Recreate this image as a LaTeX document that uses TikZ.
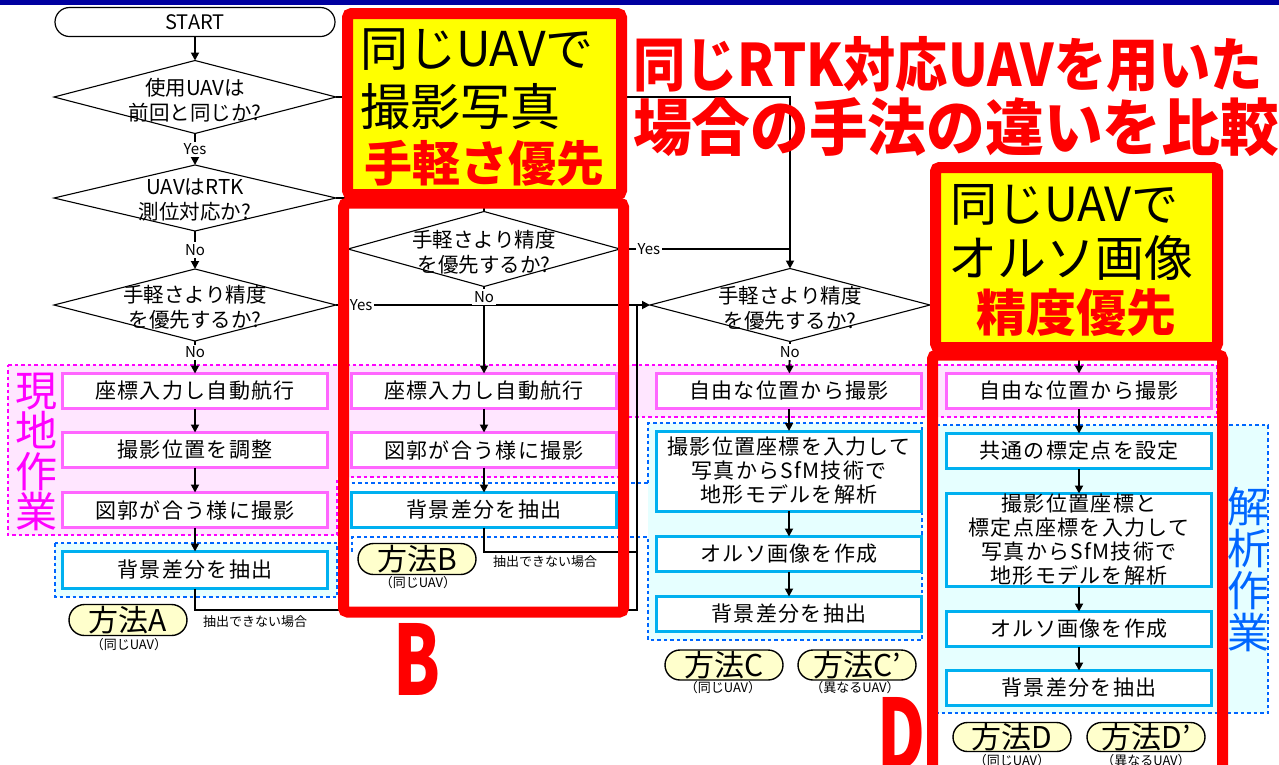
\documentclass[tikz,border=0pt]{standalone}
\usepackage{fontspec}
\setmainfont{Noto Sans CJK JP}
\newfontfamily\bxf{Noto Sans CJK JP}[LetterSpace=6]
\usetikzlibrary{shapes.geometric,shapes.misc,arrows.meta}
\definecolor{navy}{RGB}{0,0,160}
\definecolor{pinkb}{RGB}{255,102,255}
\definecolor{pinkd}{RGB}{255,0,255}
\definecolor{pinkf}{RGB}{255,230,255}
\definecolor{blueb}{RGB}{0,176,240}
\definecolor{blued}{RGB}{0,102,255}
\definecolor{bluef}{RGB}{230,255,255}
\definecolor{ylw}{RGB}{255,255,0}
\definecolor{lblf}{RGB}{255,255,204}
\newcommand{\myfs}[2]{\fontsize{#1}{#2}\selectfont}
\begin{document}
\begin{tikzpicture}[x=1pt,y=-1pt,
  every node/.style={inner sep=0pt, outer sep=0pt},
  pbox/.style={draw=pinkb, line width=3pt, fill=white, minimum width=265pt, minimum height=35pt, font=\bxf\myfs{21}{24}, align=center},
  bbox/.style={pbox, draw=blueb},
  dia/.style={diamond, draw=black, line width=1.1pt, fill=white, minimum width=282pt, minimum height=72pt},
  dtxt/.style={font=\myfs{20.5}{25}, align=center},
  yn/.style={font=\myfs{15}{15}, fill=white, inner sep=2pt},
  arr/.style={-{Triangle[length=8pt,width=8pt]}, line width=1.8pt},
  ln/.style={line width=1.8pt},
  meth/.style={rounded rectangle, draw=black, line width=1.4pt, fill=lblf, minimum width=118pt, minimum height=31pt, font=\myfs{30}{30}},
  sub/.style={font=\myfs{13}{13}},
  ng/.style={font=\myfs{13}{13}},
  redbox/.style={draw=red, line width=11pt, rounded corners=4pt},
  dsh/.style={line width=2.6pt, dash pattern=on 3.5pt off 3pt},
  pinkreg/.style={dsh, draw=pinkd, fill=pinkf},
  bluereg/.style={dsh, draw=blued, fill=bluef},
]
\clip (0,0) rectangle (1279,764);
\fill[white] (0,0) rectangle (1279,764);
\fill[navy] (0,0) rectangle (1279,5);

% regions
\draw[pinkreg] (8,365) -- (1217,365) -- (1217,417) -- (625,417) -- (625,477) -- (337,477) -- (337,535) -- (8,535) -- cycle;
\draw[bluereg] (55,543) rectangle (337,597);
\fill[bluef] (648,423) rectangle (922,640);
\draw[dsh, draw=blued] (648,483) -- (648,423) -- (922,423) -- (922,640) -- (648,640) -- (648,537) -- (352,537) -- (352,553);
\draw[dsh, draw=blued] (345,483) -- (648,483);
\draw[bluereg] (937,425) rectangle (1268,713);

% flow nodes
\node[rounded rectangle, draw=black, line width=1.2pt, fill=white, minimum width=280pt, minimum height=29pt, font=\myfs{20}{20}] (start) at (195,22) {START};
\node[dia, minimum height=73pt] (d1) at (195,97) {};
\node[dtxt] (d1t) at (195,100) {使用UAVは\\前回と同じか?};
\node[dia, minimum height=66pt] (d2) at (195,198) {};
\node[dtxt] (d2t) at (195,200) {UAVはRTK\\測位対応か?};
\node[dia, minimum height=72pt] (d3) at (195,305) {};
\node[dtxt] (d3t) at (195,307) {手軽さより精度\\を優先するか?};
\node[dia, minimum width=272pt, minimum height=75pt] (dB) at (484,249) {};
\node[dtxt] (dBt) at (484,252) {手軽さより精度\\を優先するか?};
\node[dia, minimum width=280pt, minimum height=73pt] (dC) at (790,305) {};
\node[dtxt] (dCt) at (790,308) {手軽さより精度\\を優先するか?};

\node[pbox] (A1) at (195,391) {座標入力し自動航行};
\node[pbox] (A2) at (195,450) {撮影位置を調整};
\node[pbox] (A3) at (195,510) {図郭が合う様に撮影};
\node[bbox, minimum height=37pt] (A4) at (195,570) {背景差分を抽出};

\node[pbox] (B1) at (484,391) {座標入力し自動航行};
\node[pbox] (B2) at (484,450) {図郭が合う様に撮影};
\node[bbox] (B3) at (484,510) {背景差分を抽出};

\node[pbox] (C1) at (789,391) {自由な位置から撮影};
\node[bbox, minimum height=80pt] (C2) at (789,471) {撮影位置座標を入力して\\写真からSfM技術で\\地形モデルを解析};
\node[bbox] (C3) at (789,554) {オルソ画像を作成};
\node[bbox] (C4) at (789,614) {背景差分を抽出};

\node[pbox] (D1) at (1079,391) {自由な位置から撮影};
\node[bbox] (D2) at (1079,451) {共通の標定点を設定};
\node[bbox, minimum height=93pt] (D3) at (1079,540) {撮影位置座標と\\標定点座標を入力して\\写真からSfM技術で\\地形モデルを解析};
\node[bbox] (D4) at (1079,629) {オルソ画像を作成};
\node[bbox] (D5) at (1079,688) {背景差分を抽出};

% coordinates
\coordinate (d1e) at (790,97);
\coordinate (d2e) at (484,198);
\coordinate (dBe) at (790,249);
\coordinate (fa1) at (195,610);
\coordinate (fa2) at (637,610);
\coordinate (fa3) at (637,305);
\coordinate (fb1) at (484,552);
\coordinate (fb2) at (637,552);
\coordinate (dtop) at (1079,345);

% connectors
\draw[arr] (start) -- (d1);
\draw[arr] (d1) -- node[yn]{Yes} (d2);
\draw[arr] (d2) -- node[yn]{No} (d3);
\draw[arr] (d3) -- node[yn, pos=0.35]{No} (A1);
\draw[arr] (A1) -- (A2);
\draw[arr] (A2) -- (A3);
\draw[arr] (A3) -- (A4);
\draw[ln] (A4.south) -- (fa1) -- (fa2) -- (fa3);
\draw[arr] (d1.east) -- (d1e) -- (dC.north);
\draw[ln] (d2.east) -- (d2e) -- (dB.north);
\draw[ln] (dB.east) -- node[yn, pos=0.17]{Yes} (dBe);
\draw[arr] (d3.east) -- node[yn, pos=0.08]{Yes} (dC.west);
\draw[arr] (dB.south) -- node[yn, pos=0.12]{No} (B1);
\draw[arr] (B1) -- (B2);
\draw[arr] (B2) -- (B3);
\draw[ln] (B3.south) -- (fb1) -- (fb2);
\draw[arr] (dC.south) -- node[yn, pos=0.33]{No} (C1);
\draw[arr] (C1) -- (C2);
\draw[arr] (C2) -- (C3);
\draw[arr] (C3) -- (C4);
\draw[arr] (dtop) -- (D1);
\draw[arr] (D1) -- (D2);
\draw[arr] (D2) -- (D3);
\draw[arr] (D3) -- (D4);
\draw[arr] (D4) -- (D5);

\node[ng] (ngA) at (255,622) {抽出できない場合};
\node[ng] (ngB) at (545,562) {抽出できない場合};

% method labels
\node[meth] (mA) at (128,620) {方法A};
\node[sub] (sA) at (129,645) {（同じUAV）};
\node[meth] (mB) at (417,559) {方法B};
\node[sub] (sB) at (418,583) {（同じUAV）};
\node[meth, minimum height=30pt] (mC) at (724,665) {方法C};
\node[sub] (sC) at (723,688) {（同じUAV）};
\node[meth, minimum height=30pt] (mC2) at (857,665) {方法C'};
\node[sub] (sC2) at (855,688) {（異なるUAV）};
\node[meth, minimum height=29pt] (mD) at (1012,737) {方法D};
\node[sub] (sD) at (1012,761) {（同じUAV）};
\node[meth, minimum height=29pt] (mD2) at (1146,737) {方法D'};
\node[sub] (sD2) at (1146,761) {（異なるUAV）};

% vertical labels
\node[font=\myfs{42}{40.5}, align=center, text=pinkd] (gen) at (36,452) {現\\地\\作\\業};
\node[font=\myfs{42}{42}, align=center, text=blued] (kai) at (1248,570) {解\\析\\作\\業};

% red frames
\node[redbox, fill=ylw, minimum width=274pt, minimum height=181pt] (y1) at (484.5,104) {};
\node[redbox, minimum width=280pt, minimum height=409pt] (rB) at (483.5,407.5) {};
\node[redbox, fill=ylw, minimum width=282pt, minimum height=180pt] (y2) at (1076.5,257.5) {};
\node[redbox, minimum width=290pt, minimum height=470pt] (rD) at (1077.5,590) {};

\node[anchor=west, font=\myfs{48}{48}] (y1a) at (360,50) {同じUAVで};
\node[anchor=west, font=\myfs{50}{50}] (y1b) at (360,107) {撮影写真};
\node[font=\bfseries\myfs{48}{48}, text=red] (y1c) at (484,163) {手軽さ優先};
\node[anchor=west, font=\myfs{47}{47}] (y2a) at (950,205) {同じUAVで};
\node[anchor=west, font=\myfs{49}{49}] (y2b) at (948,258) {オルソ画像};
\node[font=\bfseries\myfs{50}{50}, text=red] (y2c) at (1076,313) {精度優先};

% titles
\node[anchor=north west, text=red] (t1) at (633,36) {\resizebox*{630pt}{56pt}{\bfseries 同じRTK対応UAVを用いた}};
\node[anchor=north west, text=red] (t2) at (633,98) {\resizebox*{646pt}{59pt}{\bfseries 場合の手法の違いを比較}};
\node[anchor=north west, text=red] (bigB) at (393,623) {\resizebox*{47pt}{72pt}{\bfseries B}};
\node[anchor=north west, text=red] (bigD) at (877,697) {\resizebox*{48pt}{72pt}{\bfseries D}};
\end{tikzpicture}
\end{document}
